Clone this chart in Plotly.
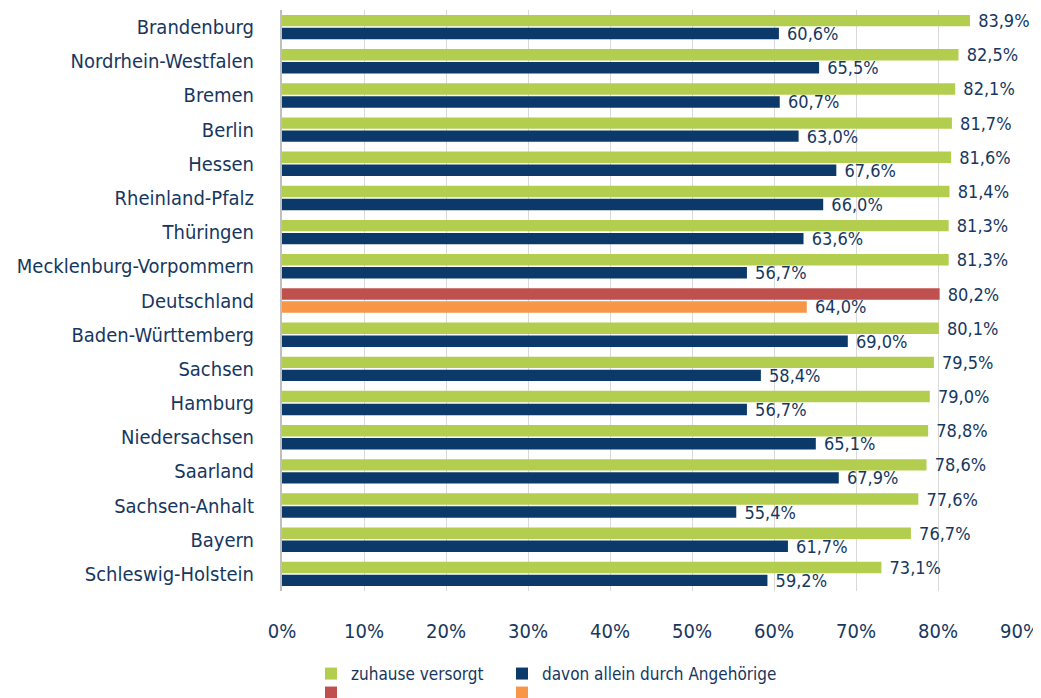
import plotly.graph_objects as go

# Data #
laender = ["Brandenburg", "Nordrhein-Westfalen", "Bremen", "Berlin", "Hessen",
           "Rheinland-Pfalz", "Thüringen", "Mecklenburg-Vorpommern", "Deutschland",
           "Baden-Württemberg", "Sachsen", "Hamburg", "Niedersachsen", "Saarland",
           "Sachsen-Anhalt", "Bayern", "Schleswig-Holstein"]
zuhause = [83.9, 82.5, 82.1, 81.7, 81.6, 81.4, 81.3, 81.3, 80.2,
           80.1, 79.5, 79.0, 78.8, 78.6, 77.6, 76.7, 73.1]
angehoerige = [60.6, 65.5, 60.7, 63.0, 67.6, 66.0, 63.6, 56.7, 64.0,
               69.0, 58.4, 56.7, 65.1, 67.9, 55.4, 61.7, 59.2]
x_ticks = list(range(0, 91, 10))
x_ticktext = [f"{t}%" for t in x_ticks]

TXT = "#17375E"
FONT = "DejaVu Sans Condensed, Roboto, sans-serif"

# the page body has an 8px margin, so the figure is shrunk by that much
W, H = 1041 - 8, 698 - 8


def split(values, de):
    return ([v if (l == "Deutschland") == de else None for l, v in zip(laender, values)])


fig = go.Figure()

specs = [
    ("zuhause versorgt", zuhause, False, "#B3CE4E", "g1", "legend"),
    ("davon allein durch Angehörige", angehoerige, False, "#0B3A6A", "g2", "legend2"),
    (" ", zuhause, True, "#C0504D", "g1", "legend3"),
    ("  ", angehoerige, True, "#F79646", "g2", "legend4"),
]
for name, vals, de, color, grp, leg in specs:
    xs = split(vals, de)
    fig.add_trace(go.Bar(
        y=laender, x=xs, orientation="h", name=name,
        marker=dict(color=color, line=dict(width=0)),
        offsetgroup=grp, legend=leg,
        text=[f" {v:.1f}%".replace(".", ",") if v is not None else "" for v in xs],
        textposition="outside", cliponaxis=False, constraintext="none",
        textfont=dict(size=18, color=TXT, family=FONT),
        hoverinfo="skip",
    ))


def leg_pos(px, py):
    # px, py: page pixel position of the legend's top-left corner
    return dict(orientation="h", xanchor="left", yanchor="top",
                xref="container", yref="container",
                x=(px - 8) / W, y=1 - (py - 8) / H,
                itemwidth=30, bgcolor="rgba(0,0,0,0)",
                font=dict(size=17, color=TXT, family=FONT))


fig.update_layout(
    width=W, height=H,
    barmode="group", bargap=0.24, bargroupgap=0.12,
    plot_bgcolor="white", paper_bgcolor="white",
    margin=dict(l=274, r=21, t=2, b=107, autoexpand=False),
    font=dict(family=FONT, color=TXT),
    showlegend=True,
    legend=leg_pos(311, 656),
    legend2=leg_pos(502, 656),
    legend3=leg_pos(311, 675),
    legend4=leg_pos(502, 675),
)
fig.update_xaxes(
    range=[0, 90], tickvals=x_ticks, ticktext=x_ticktext, automargin=False,
    showgrid=True, gridcolor="#D9D9D9", gridwidth=1, zeroline=False,
    ticks="", ticklabelstandoff=26,
    tickfont=dict(size=20, color=TXT, family=FONT),
)
fig.update_yaxes(
    autorange="reversed", showline=True, linecolor="#BFBFBF", linewidth=2,
    ticks="", ticklabelstandoff=22, automargin=False,
    tickfont=dict(size=20, color=TXT, family=FONT),
)

fig.write_html("out.html")
